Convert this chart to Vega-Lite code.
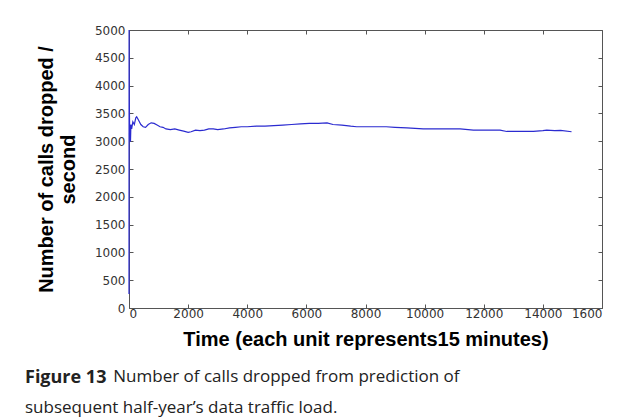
{
  "$schema": "https://vega.github.io/schema/vega-lite/v6.json",
  "autosize": "none",
  "width": 473,
  "height": 278,
  "padding": {"left": 129, "top": 30, "right": 32, "bottom": 111},
  "background": "white",
  "title": {
    "text": "Figure 13",
    "subtitle": ["\u200b\u00a0\u00a0\u00a0\u00a0\u00a0\u00a0\u00a0\u00a0\u00a0\u00a0\u00a0\u00a0\u00a0\u00a0\u00a0\u00a0\u00a0\u00a0\u00a0\u00a0Number of calls dropped from prediction of", "subsequent half-year\u2019s data traffic load."],
    "orient": "bottom",
    "anchor": "start",
    "frame": "group",
    "dx": -104,
    "offset": 20,
    "font": "Open Sans",
    "fontSize": 18,
    "fontWeight": "bold",
    "color": "#222222",
    "subtitleFont": "Open Sans",
    "subtitleFontSize": 17,
    "subtitleFontWeight": "normal",
    "subtitleColor": "#222222",
    "subtitleLineHeight": 31,
    "subtitlePadding": -18
  },
  "data": {
    "values": [
      {"t": 0, "v": 250}, {"t": 3, "v": 5000}, {"t": 8, "v": 3770}, {"t": 20, "v": 3300},
      {"t": 35, "v": 3250}, {"t": 50, "v": 2990}, {"t": 65, "v": 3300}, {"t": 90, "v": 3220},
      {"t": 130, "v": 3350}, {"t": 180, "v": 3300}, {"t": 230, "v": 3420}, {"t": 260, "v": 3440},
      {"t": 320, "v": 3380}, {"t": 400, "v": 3300}, {"t": 480, "v": 3260}, {"t": 560, "v": 3250},
      {"t": 650, "v": 3300}, {"t": 750, "v": 3330}, {"t": 850, "v": 3320}, {"t": 950, "v": 3290},
      {"t": 1050, "v": 3260}, {"t": 1150, "v": 3250}, {"t": 1250, "v": 3220}, {"t": 1400, "v": 3210},
      {"t": 1550, "v": 3220}, {"t": 1700, "v": 3200}, {"t": 1850, "v": 3180}, {"t": 2000, "v": 3160},
      {"t": 2100, "v": 3170}, {"t": 2250, "v": 3200}, {"t": 2400, "v": 3190}, {"t": 2550, "v": 3200},
      {"t": 2700, "v": 3220}, {"t": 2850, "v": 3220}, {"t": 3000, "v": 3210}, {"t": 3200, "v": 3220},
      {"t": 3400, "v": 3240}, {"t": 3600, "v": 3250}, {"t": 3800, "v": 3260}, {"t": 4000, "v": 3260},
      {"t": 4300, "v": 3270}, {"t": 4600, "v": 3270}, {"t": 4900, "v": 3280}, {"t": 5200, "v": 3290},
      {"t": 5500, "v": 3300}, {"t": 5800, "v": 3310}, {"t": 6100, "v": 3320}, {"t": 6400, "v": 3320},
      {"t": 6700, "v": 3330}, {"t": 6900, "v": 3300}, {"t": 7200, "v": 3290}, {"t": 7500, "v": 3270},
      {"t": 7700, "v": 3260}, {"t": 8000, "v": 3260}, {"t": 8400, "v": 3260}, {"t": 8700, "v": 3260},
      {"t": 9000, "v": 3250}, {"t": 9400, "v": 3240}, {"t": 9950, "v": 3220}, {"t": 10500, "v": 3220},
      {"t": 11200, "v": 3220}, {"t": 11650, "v": 3200}, {"t": 12200, "v": 3200}, {"t": 12550, "v": 3200},
      {"t": 12780, "v": 3175}, {"t": 13200, "v": 3175}, {"t": 13680, "v": 3175}, {"t": 14000, "v": 3190},
      {"t": 14130, "v": 3200}, {"t": 14400, "v": 3190}, {"t": 14600, "v": 3195}, {"t": 14970, "v": 3170}
    ]
  },
  "layer": [
    {
      "mark": {"type": "line", "strokeOpacity": 0},
      "encoding": {
        "x": {"field": "t", "type": "quantitative", "scale": {"domain": [0, 16000], "nice": false},
          "axis": {"orient": "top", "labels": false, "title": null, "values": [0, 2000, 4000, 6000, 8000, 10000, 12000, 14000, 16000]}},
        "y": {"field": "v", "type": "quantitative", "scale": {"domain": [0, 5000], "nice": false},
          "axis": {"orient": "right", "labels": false, "title": null, "values": [0, 500, 1000, 1500, 2000, 2500, 3000, 3500, 4000, 4500, 5000]}}
      }
    },
    {
      "mark": {"type": "line", "color": "#2b2bd0", "strokeWidth": 1.2},
      "encoding": {
        "x": {"field": "t", "type": "quantitative",
          "axis": {"orient": "bottom", "title": "Time (each unit represents15 minutes)", "format": "d",
            "values": [0, 2000, 4000, 6000, 8000, 10000, 12000, 14000, 16000],
            "labelExpr": "datum.value == 16000 ? '1600' : datum.label"}},
        "y": {"field": "v", "type": "quantitative",
          "axis": {"orient": "left", "title": ["Number of calls dropped /", "second"], "format": "d",
            "values": [0, 500, 1000, 1500, 2000, 2500, 3000, 3500, 4000, 4500, 5000]}}
      }
    }
  ],
  "resolve": {"axis": {"x": "independent", "y": "independent"}},
  "config": {
    "view": {"stroke": null},
    "axis": {
      "grid": false,
      "domainColor": "#555555",
      "tickColor": "#555555",
      "tickSize": -4,
      "labelColor": "#333333",
      "labelFont": "DejaVu Sans",
      "labelFontSize": 12,
      "labelPadding": 4,
      "titleFont": "Liberation Sans",
      "titleFontSize": 20,
      "titleFontWeight": "bold",
      "titleColor": "#000000",
      "titleLineHeight": 22
    },
    "axisBottom": {"titlePadding": 10},
    "axisLeft": {"titlePadding": 16, "labelPadding": 8}
  }
}
